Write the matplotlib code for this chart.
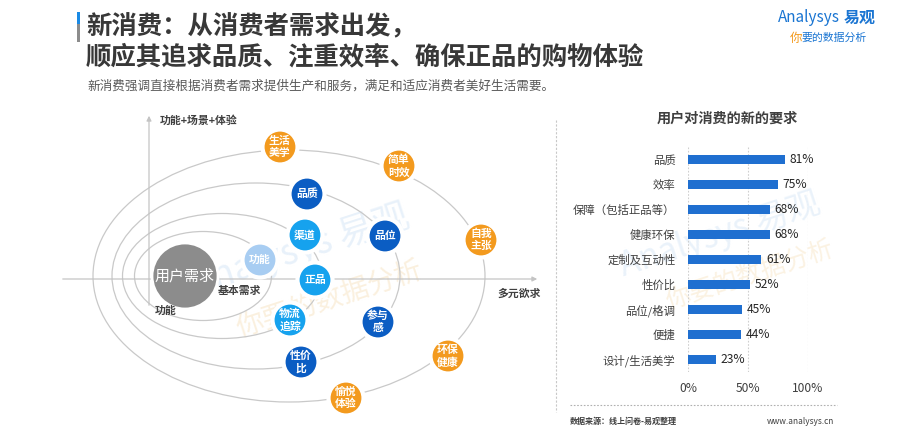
import matplotlib.pyplot as plt
from matplotlib.patches import Circle, Ellipse, Rectangle

plt.rcParams['font.family'] = ['Noto Sans CJK SC', 'DejaVu Sans']

# bar chart data
categories = ['品质', '效率', '保障（包括正品等）', '健康环保', '定制及互动性',
              '性价比', '品位/格调', '便捷', '设计/生活美学']
shares = [81, 75, 68, 68, 61, 52, 45, 44, 23]
ticks = [0, 50, 100]

# diagram nodes
node_labels = ['生活\n美学', '简单\n时效', '品质', '渠道', '品位', '自我\n主张', '功能',
               '正品', '物流\n追踪', '参与\n感', '性价\n比', '环保\n健康', '愉悦\n体验']
node_kind = ['orange', 'orange', 'dark', 'bright', 'dark', 'orange', 'light',
             'bright', 'bright', 'dark', 'dark', 'orange', 'orange']
node_xy = [(280, 147), (399, 166), (307, 194), (305, 235), (385, 236), (481, 240),
           (260, 260), (315, 280), (290, 320), (378, 322), (301, 362), (448, 356),
           (346, 398)]
# ellipse rings: center x, width, height
rings = [(203, 137, 89), (222, 199, 125), (256, 288, 186), (289, 392, 252)]

COLORS = {'orange': '#f39a1e', 'dark': '#0b5dc3', 'bright': '#16a2ee',
          'light': '#a8cdf2'}
TXT = '#404040'

fig = plt.figure(figsize=(9.14, 4.45), dpi=100)
ax = fig.add_axes([0, 0, 1, 1])
ax.set_xlim(0, 914)
ax.set_ylim(445, 0)
ax.axis('off')

# faint watermarks
ax.text(300, 250, 'Analysys 易观', fontsize=26, color='#d6e6f6', alpha=0.55,
        rotation=18, ha='center', va='center', zorder=0.5)
ax.text(330, 300, '你要的数据分析', fontsize=20, color='#f6dfb8', alpha=0.45,
        rotation=18, ha='center', va='center', zorder=0.5)
ax.text(720, 235, 'Analysys 易观', fontsize=24, color='#d6e6f6', alpha=0.5,
        rotation=18, ha='center', va='center', zorder=0.5)
ax.text(750, 275, '你要的数据分析', fontsize=18, color='#f6dfb8', alpha=0.4,
        rotation=18, ha='center', va='center', zorder=0.5)

# header
ax.add_patch(Rectangle((77, 12), 3, 12, color='#1a8ae5', lw=0))
ax.add_patch(Rectangle((77, 24), 3, 18, color='#8c8c8c', lw=0))
ax.text(86, 27, '新消费：从消费者需求出发，', fontsize=18.3, fontweight='bold',
        color='#383838', va='center')
ax.text(86, 57, '顺应其追求品质、注重效率、确保正品的购物体验', fontsize=18.3,
        fontweight='bold', color='#383838', va='center')
ax.text(87, 86, '新消费强调直接根据消费者需求提供生产和服务，满足和适应消费者美好生活需要。',
        fontsize=9.1, color='#595959', va='center')

# logo
ax.text(778, 18, 'Analysys', fontsize=11, color='#1a75d2', style='italic',
        va='center')
ax.text(844, 18, '易观', fontsize=11.5, fontweight='bold', color='#1a75d2',
        va='center')
ax.text(790, 38, '你', fontsize=9, color='#f39a1e', style='italic', va='center')
ax.text(801, 38, '要的数据分析', fontsize=7.8, color='#1a75d2', style='italic',
        va='center')

# diagram rings and axes
for cx, w, h in rings:
    ax.add_patch(Ellipse((cx, 276), w, h, fill=False, ec='#c9c9c9', lw=0.9))
ax.annotate('', xy=(540, 279), xytext=(60, 279),
            arrowprops=dict(arrowstyle='-|>', color='#c4c4c4', lw=0.9,
                            mutation_scale=7))
ax.annotate('', xy=(149, 113), xytext=(149, 308),
            arrowprops=dict(arrowstyle='-|>', color='#c4c4c4', lw=0.9,
                            mutation_scale=7))

ax.add_patch(Circle((185, 276), 33, color='#8c8c8c', ec='white', lw=2, zorder=3))
ax.text(185, 276, '用户需求', fontsize=10.8, color='white', ha='center',
        va='center', zorder=4)

for lab, kind, (x, y) in zip(node_labels, node_kind, node_xy):
    ax.add_patch(Circle((x, y), 17.5, fc=COLORS[kind], ec='white', lw=3,
                        zorder=3))
    ax.text(x, y, lab, fontsize=7.8, fontweight='bold', color='white',
            ha='center', va='center', linespacing=1.25, zorder=4)

ax.text(160, 121, '功能+场景+体验', fontsize=7.8, fontweight='bold', color=TXT,
        va='center')
ax.text(497, 294, '多元欲求', fontsize=7.8, fontweight='bold', color=TXT,
        va='center')
ax.text(218, 291, '基本需求', fontsize=7.8, fontweight='bold', color=TXT,
        va='center')
ax.text(155, 311, '功能', fontsize=7.8, fontweight='bold', color=TXT,
        va='center')

# separator and footer
ax.plot([556, 556], [120, 412], color='#c8c8c8', lw=0.8, ls=(0, (2, 1.5)))
ax.plot([570, 837], [405, 405], color='#b0b0b0', lw=0.8, ls=(0, (1.5, 1.5)))
ax.text(570, 421, '数据来源：线上问卷-易观整理', fontsize=5.8, fontweight='bold',
        color=TXT, va='center')
ax.text(834, 421, 'www.analysys.cn', fontsize=6, color=TXT, va='center',
        ha='right')

# bar chart
ax.text(727, 119, '用户对消费的新的要求', fontsize=10.2, fontweight='bold',
        color=TXT, ha='center', va='center')
bx = fig.add_axes([688 / 914, 1 - 372 / 445, 120 / 914, 225 / 445])
pos = list(range(len(categories)))
bx.barh(pos, shares, height=0.37, color='#1f6fd0', zorder=3)
for p, v in zip(pos, shares):
    bx.text(v + 4, p, f'{v}%', fontsize=8.7, color='#262626', va='center')
bx.set_xlim(0, 100)
bx.set_ylim(len(categories) - 0.5, -0.5)
bx.set_yticks(pos)
bx.set_yticklabels(categories, fontsize=8.2, color=TXT)
bx.set_xticks(ticks)
bx.set_xticklabels([f'{t}%' for t in ticks], fontsize=8.7, color=TXT)
bx.tick_params(axis='x', length=0, pad=7)
bx.tick_params(axis='y', length=0, pad=9)
for t in ticks:
    bx.axvline(t, color='#cfcfcf', lw=0.8, ls=(0, (1.5, 1.5)), zorder=1)
for s in bx.spines.values():
    s.set_visible(False)
bx.patch.set_alpha(0)

fig.savefig('out.png', dpi=100)
